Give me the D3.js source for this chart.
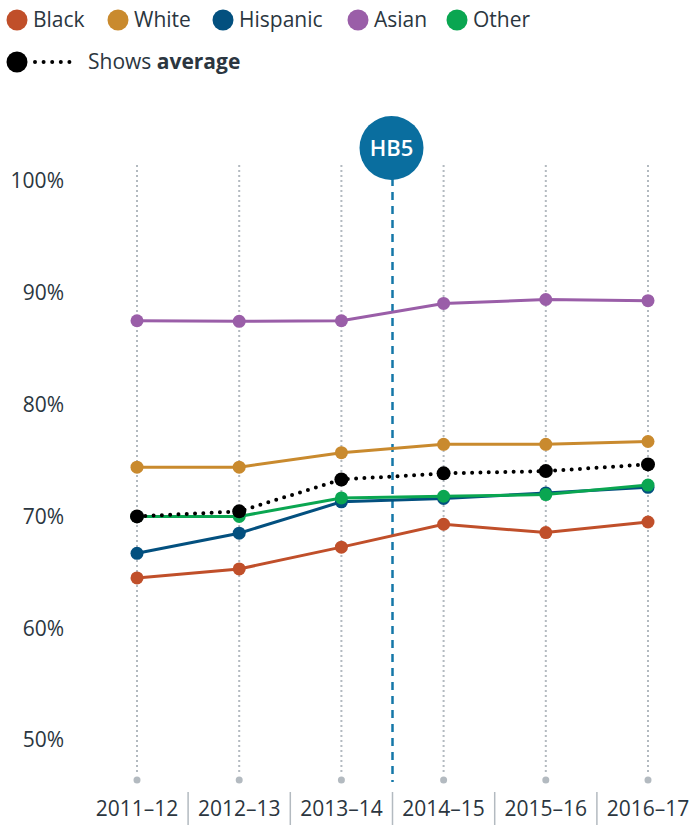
<!DOCTYPE html>
<html>
<head>
<meta charset="utf-8">
<script src="https://cdn.jsdelivr.net/npm/d3@7"></script>
<style>
  body { margin: 0; background: #fff; }
  svg { font-family: "Open Sans", sans-serif; }
</style>
</head>
<body>
<div id="chart"></div>
<script>
const years = ['2011–12', '2012–13', '2013–14', '2014–15', '2015–16', '2016–17'];
const yTicks = [50, 60, 70, 80, 90, 100];

const black = [64.5, 65.3, 67.25, 69.3, 68.55, 69.5];
const white = [74.4, 74.4, 75.7, 76.45, 76.45, 76.7];
const hispanic = [66.7, 68.5, 71.3, 71.6, 72.1, 72.6];
const asian = [87.5, 87.45, 87.5, 89.05, 89.4, 89.3];
const other = [70.0, 70.0, 71.65, 71.8, 71.95, 72.8];
const average = [70.0, 70.45, 73.3, 73.85, 74.05, 74.65];

const seriesNames = ['Black', 'White', 'Hispanic', 'Asian', 'Other'];
const seriesColors = ['#c04f2a', '#c98a2e', '#03507f', '#9a5ea8', '#0aa651'];
const seriesValues = [black, white, hispanic, asian, other];

const policyAfter = '2013–14';
const policyLabel = 'HB5';

const W = 691, H = 825;
const textColor = '#2b3640';

const svg = d3.select('#chart').append('svg')
    .attr('width', W)
    .attr('height', H);

const x = d3.scalePoint().domain(years).range([137, 648]);
const y = d3.scaleLinear().domain([50, 100]).range([740, 181]);

// vertical dotted guides
const guides = svg.append('g');
years.forEach(function (yr) {
    guides.append('line')
        .attr('x1', x(yr)).attr('x2', x(yr))
        .attr('y1', 165).attr('y2', 774)
        .attr('stroke', '#b3bac0')
        .attr('stroke-width', 2)
        .attr('stroke-dasharray', '2,3');
    guides.append('circle')
        .attr('cx', x(yr)).attr('cy', 780)
        .attr('r', 3.5)
        .attr('fill', '#b3bac0');
});

// y axis labels
svg.append('g').selectAll('text')
    .data(yTicks)
    .enter().append('text')
    .attr('x', 64)
    .attr('y', d => y(d))
    .attr('dy', '0.35em')
    .attr('text-anchor', 'end')
    .attr('fill', textColor)
    .style('font-size', '21px')
    .text(d => d + '%');

// x axis labels with separators
const xl = svg.append('g');
xl.selectAll('text')
    .data(years)
    .enter().append('text')
    .attr('x', d => x(d))
    .attr('y', 816)
    .attr('text-anchor', 'middle')
    .attr('fill', textColor)
    .style('font-size', '21px')
    .text(d => d);
xl.selectAll('line')
    .data(years.slice(1))
    .enter().append('line')
    .attr('x1', d => x(d) - x.step() / 2)
    .attr('x2', d => x(d) - x.step() / 2)
    .attr('y1', 792).attr('y2', 825)
    .attr('stroke', '#b3bac0')
    .attr('stroke-width', 1.5);

// policy marker
const px = x(policyAfter) + x.step() / 2;
svg.append('line')
    .attr('x1', px).attr('x2', px)
    .attr('y1', 178).attr('y2', 782)
    .attr('stroke', '#1477a8')
    .attr('stroke-width', 2.5)
    .attr('stroke-dasharray', '8,6');
svg.append('circle')
    .attr('cx', px - 1).attr('cy', 148)
    .attr('r', 32)
    .attr('fill', '#0a6e9f');
svg.append('text')
    .attr('x', px - 1).attr('y', 148)
    .attr('dy', '0.36em')
    .attr('text-anchor', 'middle')
    .attr('fill', '#fff')
    .style('font-size', '22px')
    .style('font-weight', 600)
    .text(policyLabel);

const line = d3.line()
    .x((d, i) => x(years[i]))
    .y(d => y(d));

seriesValues.forEach(function (vals, k) {
    const g = svg.append('g');
    g.append('path')
        .datum(vals)
        .attr('d', line)
        .attr('fill', 'none')
        .attr('stroke', seriesColors[k])
        .attr('stroke-width', 3);
    g.selectAll('circle')
        .data(vals)
        .enter().append('circle')
        .attr('cx', (d, i) => x(years[i]))
        .attr('cy', d => y(d))
        .attr('r', 6.5)
        .attr('fill', seriesColors[k]);
});

// average
const ag = svg.append('g');
ag.append('path')
    .datum(average)
    .attr('d', line)
    .attr('fill', 'none')
    .attr('stroke', '#000')
    .attr('stroke-width', 4)
    .attr('stroke-linecap', 'round')
    .attr('stroke-dasharray', '0,8.3');
ag.selectAll('circle')
    .data(average)
    .enter().append('circle')
    .attr('cx', (d, i) => x(years[i]))
    .attr('cy', d => y(d))
    .attr('r', 7)
    .attr('fill', '#000');

// legend
const legendX = [17, 118, 223, 358, 457];
const legend = svg.append('g');
seriesNames.forEach(function (name, i) {
    legend.append('circle')
        .attr('cx', legendX[i]).attr('cy', 20)
        .attr('r', 10.5)
        .attr('fill', seriesColors[i]);
    legend.append('text')
        .attr('x', legendX[i] + 16).attr('y', 20)
        .attr('dy', '0.35em')
        .attr('fill', textColor)
        .style('font-size', '21px')
        .text(name);
});
legend.append('circle')
    .attr('cx', 17).attr('cy', 62)
    .attr('r', 10.5)
    .attr('fill', '#000');
legend.append('line')
    .attr('x1', 35).attr('x2', 78)
    .attr('y1', 62).attr('y2', 62)
    .attr('stroke', '#000')
    .attr('stroke-width', 4)
    .attr('stroke-linecap', 'round')
    .attr('stroke-dasharray', '0,8.6');
const lt = legend.append('text')
    .attr('x', 88).attr('y', 62)
    .attr('dy', '0.35em')
    .attr('fill', textColor)
    .style('font-size', '21px');
lt.append('tspan').text('Shows ');
lt.append('tspan').style('font-weight', 700).text('average');
</script>
</body>
</html>
